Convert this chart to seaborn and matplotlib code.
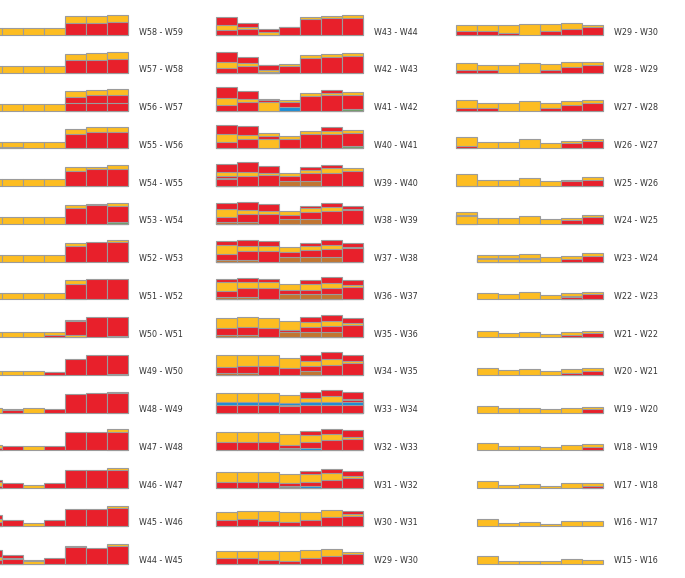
import matplotlib
matplotlib.use("Agg")
import matplotlib.pyplot as plt
import seaborn as sns
import pandas as pd

sns.set_style("white")
plt.rcParams["font.family"] = ["DejaVu Sans"]

# segment colours: y=yellow, r=red, b=blue, n=brown, g=green, k=grey, t=tan
seg_colors = {
    "y": "#FDBD22",
    "r": "#E8202B",
    "b": "#1C8ED6",
    "n": "#C27530",
    "g": "#6E9E68",
    "k": "#8C8C8C",
    "t": "#D9A441",
}

# each bar is written bottom -> top, e.g. "r12.7 y7"
labels_col1 = ["W58 - W59", "W57 - W58", "W56 - W57", "W55 - W56", "W54 - W55",
               "W53 - W54", "W52 - W53", "W51 - W52", "W50 - W51", "W49 - W50",
               "W48 - W49", "W47 - W48", "W46 - W47", "W45 - W46", "W44 - W45"]
stacks_col1 = [
    ["y7", "y7", "y7", "y7", "r12.7 y7", "r12.7 y7", "r13 y7.7"],
    ["y7", "y7", "y7", "y7", "r12.7 y6.7", "r13.3 y6.7", "r14 y7"],
    ["y7", "y7", "y7", "y7", "r8 r6 y5.3", "r8 r7.3 y5", "r8 r7.7 y5.7"],
    ["b1 y5.7", "b1 y5.7", "y6.7", "y6.7", "r14.7 y5", "r16.3 y4.7", "r16.3 y5"],
    ["y6.7", "y6.7", "y6.7", "y6.7", "r15 y4.3", "r17.3 y2", "r17.3 y3.7"],
    ["y6.7", "y6.7", "y6.7", "y6.7", "r15.7 y3", "r18.7 t1.5", "g2.3 r15.7 y3"],
    ["y6.3", "y6.3", "y6.3", "y6.3", "r15.7 y3.3", "r20", "r19.7 y1.7"],
    ["y6", "y6", "y6", "y6", "r15.7 y3.3", "r20.3", "r20.3"],
    ["y5.7", "y5.7", "y5.7", "r2.7 y3", "y2 r14.3 y1", "r20.3", "g1 r19.3"],
    ["y4.3", "y4.3", "y4.3", "r2.7 y0.7", "r16.3", "r20", "g1 r19"],
    ["y5", "r2.7 y1.3", "y4.3", "r3.7", "r18.3", "r19.7", "r19.7 y1.3"],
    ["r2.7 y3", "r4.3", "y4.3", "r4.3", "r18.3", "r18.7", "r18.7 y2.3"],
    ["r2.7 y4 r2", "r5", "y3.7", "r5", "r18", "r18", "r18.3 y2.3"],
    ["r3.7 y3.3 r4.3", "r6.3", "y3.3", "r5.7", "r16.7", "r16.7", "r18 y2.3"],
    ["r3.7 y3.3 r6.7", "r4.7 y1.3 r3", "y2.3 r1.7", "r5.7", "r16.3 y1.7", "r16", "r17.3 y2"],
]

labels_col2 = ["W43 - W44", "W42 - W43", "W41 - W42", "W40 - W41", "W39 - W40",
               "W38 - W39", "W37 - W38", "W36 - W37", "W35 - W36", "W34 - W35",
               "W33 - W34", "W32 - W33", "W31 - W32", "W30 - W31", "W29 - W30"]
stacks_col2 = [
    ["r5.3 y5 r8", "r6.7 y2 r4", "r0.7 y2.3 r3.3", "r8 t0.7", "r16.3 y2.3", "r17 y2.3", "r17.3 y2.7"],
    ["r5.3 y5.3 r10.7", "r7.3 y2.7 r5.7", "r1 y2.3 r4.3 y0.7", "r7.3 y1.3", "r15.3 y3", "r16 y2.7", "r16.7 y3"],
    ["r6 y7 r10.7", "r8.7 y3 r8", "y8.7 r1.7 t1.7", "b3.3 r5.3 y2.3", "r14.7 y3", "r16 y2 r2.7", "g1.7 r13.7 y3.7"],
    ["r6.7 y7.3 r9.3", "r9.7 y4 r8.7", "y9.7 r2.7 y3.3", "r9.7 y2.7", "r14 y3.7", "r14.7 y3 r3.3", "g2 r13.7 y3"],
    ["r7.3 t1 r2.3 y3.7 r7.7", "r10 y4 r10", "r10.7 y2.3 r6.7", "n5.3 r4.7 y2.7",
     "n5.3 r7.7 y3.3 r2.7", "r13.3 y4.7 r3.3", "r15.3 y2.7"],
    ["n2.3 r5 y7.3 r6", "n2.3 r8 y3.7 r8.3", "r9.7 y3.7 r6.7", "n4.7 r4.3 y3.7",
     "n4.7 r7 y4 r2.7", "r12.7 y4 r4", "r13.7 y1.7 r3"],
    ["n2 r5.3 y9.3 r4", "n2 r8.7 y5.3 r6", "r10.7 y4.7 r5.3", "n5 r4.3 y5",
     "n5 r6.3 y4.3 r3.3", "n5 r7.7 y4 r5", "r13.3 y1.7 r4"],
    ["n2.3 r5.7 y9.7 r2.7", "n2.3 r9 y6 r4.3", "r11.3 y6 r3.3", "n5 r4 y6",
     "n5 r4.7 y5.3 r4.7", "n5 r6.7 y5 r5.7", "r12.7 y1.7 r5"],
    ["n2 r7.3 y9.7", "n2 r8 y10", "r9.3 y9.7", "n5.3 r2.3 y8.3",
     "n5.3 r4.7 y5.3 r4.7", "n5.3 r6 y5.3 r6", "r12.7 y1.3 r5.3"],
    ["n2.3 r5.3 y12", "n2.3 r6.3 y11", "r8.7 y11", "r6.7 y10.7",
     "n4.3 r4.3 y5.7 r6", "r10.3 y5.7 r7", "r12 y1.7 r6"],
    ["r8 b2.7 y9.3", "r8 b2.7 y9", "r8 b2.7 y9.3", "r6.3 y1 b2.3 y8",
     "r8 b2.7 y4 r5.7", "r8 b2.7 y5.7 r6.7", "r8 b2.7 r2 y1.3 r6.7"],
    ["r8 y10", "r8 y10", "r8 y10", "k2.3 r2.7 y11.7", "b2.7 r5.3 y7 r4.3", "r10 y6.7 r5", "r11.7 y1.7 r6.7"],
    ["r6.7 y9.3", "r6.7 y9.3", "r6.7 y9.3", "k2 r3 y9.7", "b2 r4.7 y8 r2.7", "r8.7 y7 r4", "r10.7 y1.7 r5"],
    ["r6 y8", "r6.7 y8", "r5.3 y9.3", "r4 y10", "r6 y8", "r8.7 y7.3", "r10 y2 r2.7"],
    ["r5.3 y7", "r5.3 y7", "r4 y8.3", "r2.7 y9.7", "r5.3 y8.3", "r7.3 y7.3", "r10 y1.7"],
]

labels_col3 = ["W29 - W30", "W28 - W29", "W27 - W28", "W26 - W27", "W25 - W26",
               "W24 - W25", "W23 - W24", "W22 - W23", "W21 - W22", "W20 - W21",
               "W19 - W20", "W18 - W19", "W17 - W18", "W16 - W17", "W15 - W16"]
stacks_col3 = [
    ["r4 y6.3", "r4 y6.3", "r2.3 y8", "y11", "r4 y7", "r6.3 y6.3", "r8.7 y1.7"],
    ["r3.3 y6.7", "r3.3 y5", "y8.3", "y10", "r3.3 y6", "r6 y5", "r8.3 y2.3"],
    ["r2.3 y8.7", "r2.3 y5", "y7.3", "y9.7", "r2.7 y5.3", "r5.7 y3.7", "r7.7 y2.7"],
    ["r2 y9.3", "y6.7", "y6.7", "y9", "y5.7", "r5 y2.3", "r7 y2.7"],
    ["r0.7 y11.3", "y6.3", "y6.3", "y8", "y4.7", "r4.7 y1.3", "r6.3 y2.7"],
    ["y7.7 b1.3 y3.3", "y6", "y6", "y8", "y4.7", "r3.7 y2.3", "r7 y1.7"],
    ["", "y3 b0.7 y2.7", "y3 b0.7 y2.7", "y3 b0.7 y4", "y4.3", "r3 y3", "r6 y2.3"],
    ["", "y6", "y5.3", "y7", "y4", "r2.3 b0.7 y3.3", "r5.3 y2.3"],
    ["", "y6", "y4.7", "y5.7", "y3.3", "r2 y3.3", "r4 y2.7"],
    ["", "y6.7", "y5", "y6", "y3.7", "r2 y3.7", "r4 y2.7"],
    ["", "y7", "y4.3", "y5", "y3.3", "y4.7", "r3.3 y2.7"],
    ["", "y7.3", "y4", "y4.7", "y3.3", "y5", "r3 y3"],
    ["", "y7.3", "y3.7", "y4.3", "y2.7", "y5", "y0.7 r2 y2.3"],
    ["", "y7.3", "y3", "y3.7", "y2.3", "y4.7", "y4.7"],
    ["", "y7.3", "y2.7", "y3", "y2.7", "y4.7", "y4"],
]

W, H = 685, 578
col_left = [-19, 216, 456]   # px, left edge of first bar
panel_w, panel_h = 147, 30   # px
row_step = 37.75
first_base = 35.2
bar_keys = [str(i) for i in range(7)]


def parse(bar):
    return [(tok[0], float(tok[1:])) for tok in bar.split()]


def draw_panel(ax, bars):
    stacks = [parse(b) for b in bars]
    n_layers = max(len(s) for s in stacks)
    # draw cumulative tops from the highest layer down so lower segments sit on top
    for k in range(n_layers - 1, -1, -1):
        rows = []
        for i, segs in enumerate(stacks):
            if len(segs) > k:
                top = sum(h for _, h in segs[:k + 1])
                rows.append({"key": bar_keys[i], "top": top,
                             "color": seg_colors[segs[k][0]]})
        df = pd.DataFrame(rows)
        sns.barplot(data=df, x="key", y="top", hue="key", order=bar_keys,
                    palette=dict(zip(df["key"], df["color"])), width=1,
                    saturation=1, errorbar=None, legend=False,
                    edgecolor="#9B9B9B", linewidth=0.8, ax=ax)
    for p in ax.patches:
        p.set_clip_on(False)
    ax.set_xlim(-0.5, 6.5)
    ax.set_ylim(0, panel_h)
    ax.set_axis_off()


fig = plt.figure(figsize=(W / 100, H / 100), dpi=100)

columns = [(labels_col1, stacks_col1), (labels_col2, stacks_col2), (labels_col3, stacks_col3)]
for c, (labels, stacks) in enumerate(columns):
    for r, (label, bars) in enumerate(zip(labels, stacks)):
        base = first_base + row_step * r
        ax = fig.add_axes([col_left[c] / W, (H - base) / H, panel_w / W, panel_h / H])
        draw_panel(ax, bars)
        fig.text((col_left[c] + panel_w + 11) / W, (H - base + 3) / H, label,
                 ha="left", va="center", fontsize=5.8, color="#333333")

fig.savefig("out.png", dpi=100)
